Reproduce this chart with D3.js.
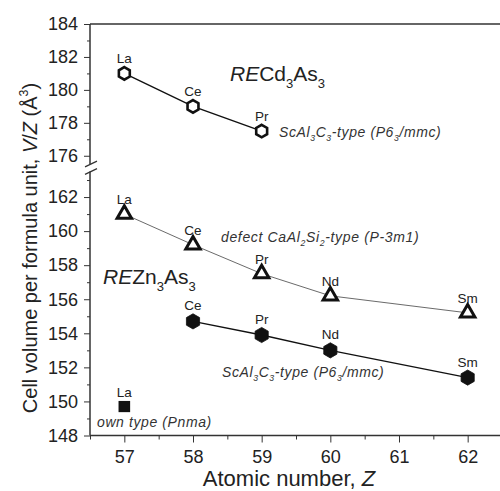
<!DOCTYPE html>
<html>
<head>
<meta charset="utf-8">
<script src="https://cdn.jsdelivr.net/npm/d3@7"></script>
<style>
  body { margin: 0; background: #fff; }
  svg text { font-family: "Liberation Sans", Arial, sans-serif; }
  .tick text { font-size: 18px; fill: #222; }
  .tick line { stroke: #333; }
</style>
</head>
<body>
<div id="chart"></div>
<script>
// RECd3As3, ScAl3C3-type (open hexagons)
var cdNames = ["La", "Ce", "Pr"];
var cdZ = [57, 58, 59];
var cdV = [181.0, 179.0, 177.5];

// REZn3As3, defect CaAl2Si2-type (open triangles)
var triNames = ["La", "Ce", "Pr", "Nd", "Sm"];
var triZ = [57, 58, 59, 60, 62];
var triV = [161.0, 159.2, 157.5, 156.2, 155.2];

// REZn3As3, ScAl3C3-type (filled hexagons)
var hexNames = ["Ce", "Pr", "Nd", "Sm"];
var hexZ = [58, 59, 60, 62];
var hexV = [154.7, 153.9, 153.0, 151.4];

// LaZn3As3 own type (filled square)
var sqNames = ["La"];
var sqZ = [57];
var sqV = [149.7];

var xTicks = [57, 58, 59, 60, 61, 62];
var yTicksUpper = [176, 178, 180, 182, 184];
var yTicksLower = [148, 150, 152, 154, 156, 158, 160, 162];

var width = 500, height = 491;

var svg = d3.select("#chart").append("svg")
  .attr("width", width)
  .attr("height", height);

var x = d3.scaleLinear().domain([56.5, 62.5]).range([90, 502]);
var yU = d3.scaleLinear().domain([175.5, 184]).range([164, 24]);
var yL = d3.scaleLinear().domain([148, 163.5]).range([435.5, 171.5]);

function pack(zs, vs, names) {
  return zs.map(function(z, i) { return {z: z, v: vs[i], name: names[i]}; });
}
var cd = pack(cdZ, cdV, cdNames);
var tri = pack(triZ, triV, triNames);
var hex = pack(hexZ, hexV, hexNames);
var sq = pack(sqZ, sqV, sqNames);

// top frame line
svg.append("line")
  .attr("x1", x.range()[0]).attr("x2", width)
  .attr("y1", yU.range()[1]).attr("y2", yU.range()[1])
  .attr("stroke", "#666").attr("stroke-width", 2);

// x axis
var xAxis = svg.append("g")
  .attr("transform", "translate(0," + yL.range()[0] + ")")
  .call(d3.axisBottom(x).tickValues(xTicks).tickSize(7).tickPadding(8).tickFormat(d3.format("d")));
xAxis.select(".domain").remove();
svg.append("g")
  .attr("transform", "translate(0," + yL.range()[0] + ")")
  .call(d3.axisBottom(x).tickValues(d3.range(56.5, 62.51, 0.5).filter(function(d) { return d % 1 !== 0; })).tickSize(4).tickFormat(""))
  .select(".domain").remove();
svg.append("line")
  .attr("x1", x.range()[0]).attr("x2", width)
  .attr("y1", yL.range()[0]).attr("y2", yL.range()[0])
  .attr("stroke", "#333").attr("stroke-width", 1.5);

// y axis: two segments
function yAxisPart(scale, ticks) {
  var g = svg.append("g").attr("transform", "translate(" + x.range()[0] + ",0)");
  g.call(d3.axisLeft(scale).tickValues(ticks).tickSize(6).tickPadding(6).tickFormat(d3.format("d")));
  g.select(".domain").remove();
  var d = scale.domain();
  var minor = d3.range(Math.ceil(d[0]), d[1] + 0.01, 1).filter(function(v) { return v % 2 !== 0; });
  var g2 = svg.append("g").attr("transform", "translate(" + x.range()[0] + ",0)");
  g2.call(d3.axisLeft(scale).tickValues(minor).tickSize(3).tickFormat(""));
  g2.select(".domain").remove();
  svg.append("line")
    .attr("x1", x.range()[0]).attr("x2", x.range()[0])
    .attr("y1", scale.range()[0]).attr("y2", scale.range()[1])
    .attr("stroke", "#333").attr("stroke-width", 1.5);
}
yAxisPart(yU, yTicksUpper);
yAxisPart(yL, yTicksLower);

// break marks
[yU.range()[0], yL.range()[1]].forEach(function(yy) {
  svg.append("line")
    .attr("x1", x.range()[0] - 5).attr("y1", yy + 2.8)
    .attr("x2", x.range()[0] + 7).attr("y2", yy - 2.8)
    .attr("stroke", "#333").attr("stroke-width", 1.3);
});

// lines
function drawLine(data, scale, w, col) {
  svg.append("path")
    .datum(data)
    .attr("fill", "none")
    .attr("stroke", col)
    .attr("stroke-width", w)
    .attr("d", d3.line().x(function(d) { return x(d.z); }).y(function(d) { return scale(d.v); }));
}
drawLine(cd, yU, 1.4, "#111");
drawLine(tri, yL, 0.8, "#444");
drawLine(hex, yL, 1.4, "#111");

// markers
function hexPath(r) {
  var pts = d3.range(6).map(function(k) {
    var a = (-90 + 60 * k) * Math.PI / 180;
    return [r * Math.cos(a), r * Math.sin(a)];
  });
  return d3.line()(pts) + "Z";
}

svg.selectAll(".cdpt").data(cd).enter().append("path")
  .attr("transform", function(d) { return "translate(" + x(d.z) + "," + yU(d.v) + ")"; })
  .attr("d", hexPath(6.3))
  .attr("fill", "#fff").attr("stroke", "#111").attr("stroke-width", 2.6);

svg.selectAll(".tript").data(tri).enter().append("path")
  .attr("transform", function(d) { return "translate(" + x(d.z) + "," + yL(d.v) + ")"; })
  .attr("d", d3.symbol().type(d3.symbolTriangle).size(90))
  .attr("fill", "#fff").attr("stroke", "#111").attr("stroke-width", 3)
  .attr("stroke-linejoin", "miter");

svg.selectAll(".hexpt").data(hex).enter().append("path")
  .attr("transform", function(d) { return "translate(" + x(d.z) + "," + yL(d.v) + ")"; })
  .attr("d", hexPath(7.6))
  .attr("fill", "#111").attr("stroke", "#111").attr("stroke-width", 0.8);

svg.selectAll(".sqpt").data(sq).enter().append("rect")
  .attr("x", function(d) { return x(d.z) - 5.8; })
  .attr("y", function(d) { return yL(d.v) - 5.6; })
  .attr("width", 11.6).attr("height", 11.2)
  .attr("fill", "#111");

// point labels
function pointLabels(data, scale, off) {
  svg.selectAll(null).data(data).enter().append("text")
    .attr("x", function(d) { return x(d.z); })
    .attr("y", function(d) { return scale(d.v) - off; })
    .attr("text-anchor", "middle")
    .style("font-size", "13.5px")
    .style("fill", "#222")
    .text(function(d) { return d.name; });
}
pointLabels(cd, yU, 10);
pointLabels(tri, yL, 10);
pointLabels(hex, yL, 11);
pointLabels(sq, yL, 10);

// rich text helper: parts = [[text, style]] style: "i", "sub", "sup", "n"
function richText(px, py, size, parts, opts) {
  opts = opts || {};
  var t = svg.append("text")
    .attr("x", px).attr("y", py)
    .style("font-size", size + "px")
    .style("fill", opts.fill || "#222");
  if (opts.spacing) t.style("letter-spacing", opts.spacing + "px");
  if (opts.italic) t.style("font-style", "italic");
  if (opts.rotate) t.attr("transform", "rotate(-90," + px + "," + py + ")").attr("text-anchor", "middle");
  var shift = 0;
  parts.forEach(function(p) {
    var s = t.append("tspan").text(p[0]);
    var st = p[1] || "";
    if (st.indexOf("i") >= 0) s.style("font-style", "italic");
    if (st.indexOf("n") >= 0) s.style("font-style", "normal");
    var target = 0;
    if (st.indexOf("sub") >= 0) { target = size * 0.32; s.style("font-size", (size * 0.62) + "px"); }
    if (st.indexOf("sup") >= 0) { target = -size * 0.45; s.style("font-size", (size * 0.62) + "px"); }
    if (target !== shift) { s.attr("dy", target - shift); shift = target; }
  });
  return t;
}

richText(230, 81, 21, [["RE", "i"], ["Cd"], ["3", "sub"], ["As"], ["3", "sub"]]);
richText(103, 284, 21, [["RE", "i"], ["Zn"], ["3", "sub"], ["As"], ["3", "sub"]]);

richText(279, 137, 14, [["ScAl"], ["3", "sub"], ["C"], ["3", "sub"], ["-type (P6"], ["3", "sub"], ["/mmc)"]],
  {italic: true, spacing: 0.6, fill: "#333"});
richText(221, 242, 14, [["defect CaAl"], ["2", "sub"], ["Si"], ["2", "sub"], ["-type (P-3m1)"]],
  {italic: true, spacing: 0.65, fill: "#333"});
richText(222, 377, 14, [["ScAl"], ["3", "sub"], ["C"], ["3", "sub"], ["-type (P6"], ["3", "sub"], ["/mmc)"]],
  {italic: true, spacing: 0.6, fill: "#333"});
richText(97, 427, 14, [["own type ("], ["Pnma", ""], [")"]],
  {italic: true, spacing: 0.6, fill: "#333"});

// axis titles
svg.append("text")
  .attr("x", 289).attr("y", 486)
  .attr("text-anchor", "middle")
  .style("font-size", "22px").style("fill", "#222")
  .call(function(t) {
    t.append("tspan").text("Atomic number, ");
    t.append("tspan").style("font-style", "italic").text("Z");
  });

richText(37, 248, 20, [["Cell volume per formula unit, "], ["V", "i"], ["/"], ["Z", "i"], [" (Å"], ["3", "sup"], [")", "n"]],
  {rotate: true});
</script>
</body>
</html>
